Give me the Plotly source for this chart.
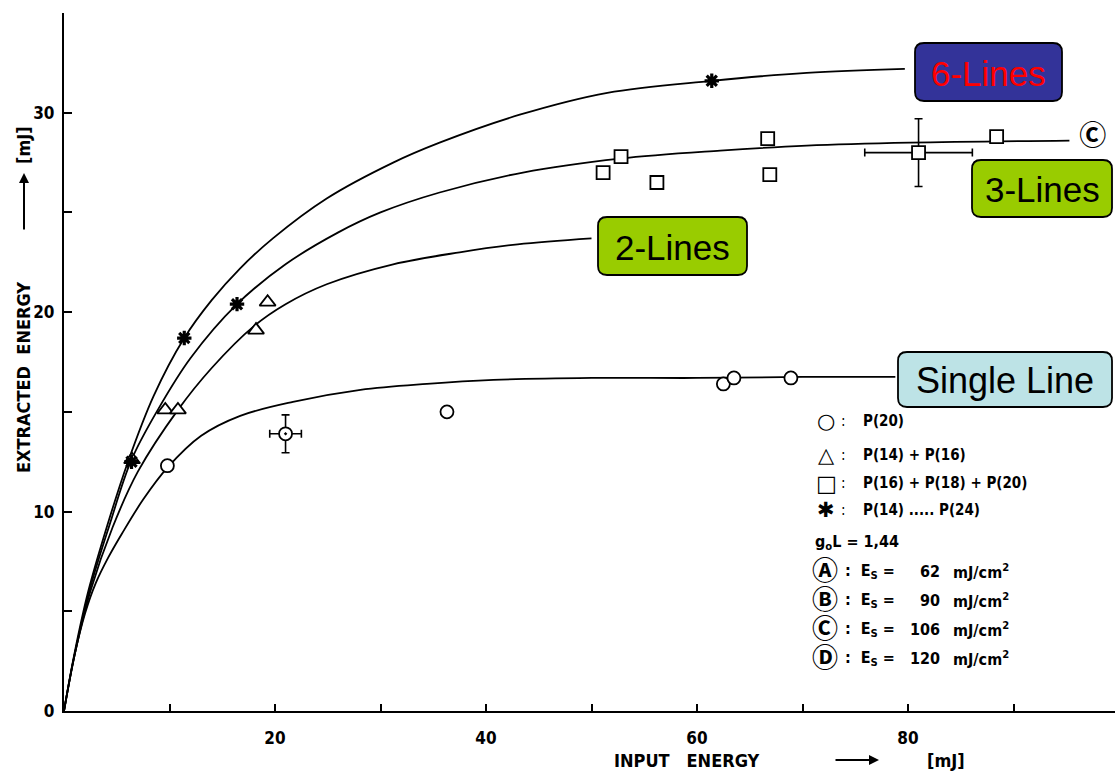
import plotly.graph_objects as go

# ---------------- data ----------------
# fitted curves, read point by point
six_x = [0, 1.0, 2.3, 4.1, 6.0, 8.5, 11.4, 14.0, 16.7, 19.8, 24.9, 31.2, 35.6, 43.2, 51.5, 61.4, 70.4, 79.7]
six_y = [0, 2.9, 6.0, 9.3, 12.4, 15.8, 18.7, 20.6, 22.2, 23.7, 25.7, 27.5, 28.5, 29.9, 31.0, 31.6, 32.0, 32.2]

three_x = [0, 1.0, 2.5, 4.3, 6.4, 9.0, 12.0, 16.4, 21.0, 26.0, 30.0, 35.6, 43.5, 52.7, 62.2, 70.4, 80.2, 95.3]
three_y = [0, 2.8, 6.2, 9.3, 12.6, 15.2, 17.7, 20.4, 22.4, 24.0, 25.0, 26.0, 27.0, 27.7, 28.1, 28.35, 28.5, 28.6]

two_x = [0, 1.0, 2.5, 4.6, 7.0, 10.8, 14.0, 18.0, 21.0, 24.9, 31.2, 37.5, 43.0, 50.0]
two_y = [0, 2.8, 6.0, 9.2, 12.0, 15.1, 17.2, 19.3, 20.4, 21.4, 22.4, 23.0, 23.4, 23.7]

single_x = [0, 1.0, 2.0, 3.0, 4.2, 5.5, 7.5, 9.8, 13.0, 16.7, 21.7, 28.1, 34.4, 40.7, 50.0, 60.0, 70.0, 78.8]
single_y = [0, 2.8, 4.9, 6.4, 7.7, 8.9, 10.6, 12.2, 13.8, 14.8, 15.5, 16.1, 16.4, 16.6, 16.7, 16.7, 16.75, 16.75]

# measured points
circ_x = [9.8, 36.3, 62.5, 63.5, 68.9]            # P(20)
circ_y = [12.3, 15.0, 16.4, 16.7, 16.7]
circ_err_x = [21.0]
circ_err_y = [13.9]
circ_err_dx = [1.5]
circ_err_dy = [0.95]

tri_x = [6.45, 9.6, 10.8, 18.2, 19.3]             # P(14)+P(16)
tri_y = [12.6, 15.1, 15.1, 19.1, 20.5]

sq_x = [51.1, 52.8, 56.2, 66.7, 66.9, 88.4]       # P(16)+P(18)+P(20)
sq_y = [27.0, 27.8, 26.5, 28.7, 26.9, 28.8]
sq_err_x = [81.0]
sq_err_y = [28.0]
sq_err_dx = [5.1]
sq_err_dy = [1.7]

star_x = [6.4, 11.4, 16.4, 61.4]                  # P(14) ..... P(24)
star_y = [12.5, 18.7, 20.4, 31.6]

circC_x = [97.5]
circC_y = [28.7]

x_tickvals = [10, 20, 30, 40, 50, 60, 70, 80, 90]
x_ticktext = ["", "20", "", "40", "", "60", "", "80", ""]
y_tickvals = [0, 5, 10, 15, 20, 25, 30, 35]
y_ticktext = ["0", "", "10", "", "20", "", "30", ""]

legend_rows = [
    ("○", "P(20)"),
    ("△", "P(14) + P(16)"),
    ("□", "P(16) + P(18) + P(20)"),
    ("✱", "P(14) ..... P(24)"),
]
es_letters = ["Ⓐ", "Ⓑ", "Ⓒ", "Ⓓ"]
es_values = ["62", "90", "106", "120"]

# ---------------- layout helpers ----------------
W, H = 1115, 773
L, R, T, B = 64, 0, 13, 62
PW, PH = W - L - R, H - T - B

def px(xp):
    return (xp - L) / PW

def py(yp):
    return (H - B - yp) / PH

FONT = "DejaVu Sans Condensed, Liberation Sans Narrow, Roboto Condensed, DejaVu Sans, sans-serif"
SYMFONT = "DejaVu Sans, Noto Sans CJK SC, sans-serif"
BOXFONT = "Liberation Sans, Arial, sans-serif"
WT = "bold"

fig = go.Figure()

line_style = dict(color="black", width=1.8, shape="spline", smoothing=1.0)
for cx, cy in [(six_x, six_y), (three_x, three_y), (two_x, two_y), (single_x, single_y)]:
    fig.add_trace(go.Scatter(x=cx, y=cy, mode="lines", line=line_style,
                             hoverinfo="skip", showlegend=False))

mk_line = dict(color="black", width=1.8)
fig.add_trace(go.Scatter(x=circ_x, y=circ_y, mode="markers",
                         marker=dict(symbol="circle", size=13, color="white", line=mk_line),
                         showlegend=False))
fig.add_trace(go.Scatter(x=circ_err_x, y=circ_err_y, mode="markers",
                         marker=dict(symbol="circle-dot", size=13, color="white", line=mk_line),
                         error_x=dict(type="data", array=circ_err_dx, color="black", thickness=1.6, width=4),
                         error_y=dict(type="data", array=circ_err_dy, color="black", thickness=1.6, width=4),
                         showlegend=False))
fig.add_trace(go.Scatter(x=tri_x, y=tri_y, mode="markers",
                         marker=dict(symbol="triangle-up", size=14, color="white", line=mk_line),
                         showlegend=False))
fig.add_trace(go.Scatter(x=sq_x, y=sq_y, mode="markers",
                         marker=dict(symbol="square", size=13, color="white", line=mk_line),
                         showlegend=False))
fig.add_trace(go.Scatter(x=sq_err_x, y=sq_err_y, mode="markers",
                         marker=dict(symbol="square", size=13, color="white", line=mk_line),
                         error_x=dict(type="data", array=sq_err_dx, color="black", thickness=1.6, width=4),
                         error_y=dict(type="data", array=sq_err_dy, color="black", thickness=1.6, width=4),
                         showlegend=False))
fig.add_trace(go.Scatter(x=star_x, y=star_y, mode="markers",
                         marker=dict(symbol="asterisk-open", size=12, color="black",
                                     line=dict(color="black", width=3.2)),
                         showlegend=False))
fig.add_trace(go.Scatter(x=circC_x, y=circC_y, mode="text", text=["Ⓒ"],
                         textfont=dict(family=SYMFONT, size=27, color="black", weight=WT),
                         textposition="middle center", showlegend=False))

# ---------------- rounded label boxes ----------------
def rbox(x0, y0, x1, y1, r, fill):
    pts = [
        ("M", [(x0 + r, y0)]),
        ("L", [(x1 - r, y0)]),
        ("Q", [(x1, y0), (x1, y0 + r)]),
        ("L", [(x1, y1 - r)]),
        ("Q", [(x1, y1), (x1 - r, y1)]),
        ("L", [(x0 + r, y1)]),
        ("Q", [(x0, y1), (x0, y1 - r)]),
        ("L", [(x0, y0 + r)]),
        ("Q", [(x0, y0), (x0 + r, y0)]),
    ]
    path = ""
    for cmd, ps in pts:
        path += cmd + " " + " ".join(f"{px(a):.5f},{py(b):.5f}" for a, b in ps) + " "
    path += "Z"
    fig.add_shape(type="path", path=path, xref="paper", yref="paper",
                  fillcolor=fill, line=dict(color="black", width=1.8), layer="above")

boxes = [
    (915, 43, 1062, 101, "6-Lines", "#333399", "#FF0000", 35),
    (972, 160, 1112, 217, "3-Lines", "#99CC00", "black", 35),
    (598, 217, 747, 275, "2-Lines", "#99CC00", "black", 35),
    (898, 352, 1112, 407, "Single Line", "#BDE3E6", "black", 36),
]
annotations = []
for x0, y0, x1, y1, txt, fill, tc, fs in boxes:
    rbox(x0, y0, x1, y1, 9, fill)
    annotations.append(dict(x=px((x0 + x1) / 2), y=py((y0 + y1) / 2 + 1), xref="paper", yref="paper",
                            text=txt, showarrow=False, xanchor="center", yanchor="middle",
                            font=dict(family=BOXFONT, size=fs, color=tc)))

# ---------------- legend block ----------------
LEG = 15
row_y = [421, 455, 483, 510]
sym_sizes = [21, 21, 22, 21]
for (sym, txt), yy, ss in zip(legend_rows, row_y, sym_sizes):
    annotations.append(dict(x=px(826), y=py(yy), xref="paper", yref="paper", text=sym,
                            showarrow=False, xanchor="center", yanchor="middle",
                            font=dict(family=SYMFONT, size=ss, color="black", weight=WT)))
    annotations.append(dict(x=px(843), y=py(yy), xref="paper", yref="paper", text=":",
                            showarrow=False, xanchor="center", yanchor="middle",
                            font=dict(family=FONT, size=LEG, color="black")))
    annotations.append(dict(x=px(861), y=py(yy), xref="paper", yref="paper", text=txt,
                            showarrow=False, xanchor="left", yanchor="middle",
                            font=dict(family=FONT, size=LEG, color="black", weight=WT)))
annotations.append(dict(x=px(813), y=py(542), xref="paper", yref="paper",
                        text="g<sub>o</sub>L = 1,44", showarrow=False, xanchor="left",
                        yanchor="middle", font=dict(family=FONT, size=LEG + 1, color="black", weight=WT)))
es_y = [571, 600, 629, 658]
for let, val, yy in zip(es_letters, es_values, es_y):
    annotations.append(dict(x=px(825), y=py(yy), xref="paper", yref="paper", text=let,
                            showarrow=False, xanchor="center", yanchor="middle",
                            font=dict(family=SYMFONT, size=26, color="black", weight=WT)))
    annotations.append(dict(x=px(843), y=py(yy), xref="paper", yref="paper",
                            text=":  E<sub>S</sub> =", showarrow=False, xanchor="left",
                            yanchor="middle", font=dict(family=FONT, size=LEG + 1, color="black", weight=WT)))
    annotations.append(dict(x=px(942), y=py(yy), xref="paper", yref="paper", text=val,
                            showarrow=False, xanchor="right", yanchor="middle",
                            font=dict(family=FONT, size=LEG + 1, color="black", weight=WT)))
    annotations.append(dict(x=px(951), y=py(yy), xref="paper", yref="paper",
                            text="mJ/cm<sup>2</sup>", showarrow=False, xanchor="left",
                            yanchor="middle", font=dict(family=FONT, size=LEG + 1, color="black", weight=WT)))

# ---------------- axis titles ----------------
TT = 18
annotations.append(dict(x=px(687), y=py(760), xref="paper", yref="paper", text="INPUT   ENERGY",
                        showarrow=False, xanchor="center", yanchor="middle",
                        font=dict(family=FONT, size=TT, color="black", weight=WT)))
annotations.append(dict(x=px(946), y=py(760), xref="paper", yref="paper", text="[mJ]",
                        showarrow=False, xanchor="center", yanchor="middle",
                        font=dict(family=FONT, size=TT, color="black", weight=WT)))
annotations.append(dict(x=px(879), y=py(760), xref="paper", yref="paper", ax=-45, ay=0,
                        text="", showarrow=True,
                        arrowhead=2, arrowsize=1, arrowwidth=2, arrowcolor="black"))
annotations.append(dict(x=px(24), y=py(378), xref="paper", yref="paper", text="EXTRACTED  ENERGY",
                        textangle=-90, showarrow=False, xanchor="center", yanchor="middle",
                        font=dict(family=FONT, size=TT, color="black", weight=WT)))
annotations.append(dict(x=px(24), y=py(145), xref="paper", yref="paper", text="[mJ]",
                        textangle=-90, showarrow=False, xanchor="center", yanchor="middle",
                        font=dict(family=FONT, size=TT, color="black", weight=WT)))
annotations.append(dict(x=px(24), y=py(173), xref="paper", yref="paper", ax=0, ay=58,
                        text="", showarrow=True,
                        arrowhead=2, arrowsize=1, arrowwidth=2, arrowcolor="black"))

fig.update_layout(
    width=W, height=H,
    margin=dict(l=L, r=R, t=T, b=B, pad=0),
    paper_bgcolor="white", plot_bgcolor="white",
    showlegend=False,
    annotations=annotations,
    font=dict(family=FONT, size=17, color="black"),
    xaxis=dict(range=[0, (W - L) / (211 / 20)], showgrid=False, zeroline=False,
               showline=True, linecolor="black", linewidth=2.2,
               ticks="inside", ticklen=7, tickwidth=1.6, tickcolor="black",
               tickmode="array", tickvals=x_tickvals, ticktext=x_ticktext,
               tickfont=dict(family=FONT, size=17, color="black", weight=WT), ticklabelstandoff=10),
    yaxis=dict(range=[0, 35], showgrid=False, zeroline=False,
               showline=True, linecolor="black", linewidth=2.2,
               ticks="inside", ticklen=8, tickwidth=1.6, tickcolor="black",
               tickmode="array", tickvals=y_tickvals, ticktext=y_ticktext,
               tickfont=dict(family=FONT, size=17, color="black", weight=WT), ticklabelstandoff=4),
)

fig.write_html("out.html")
